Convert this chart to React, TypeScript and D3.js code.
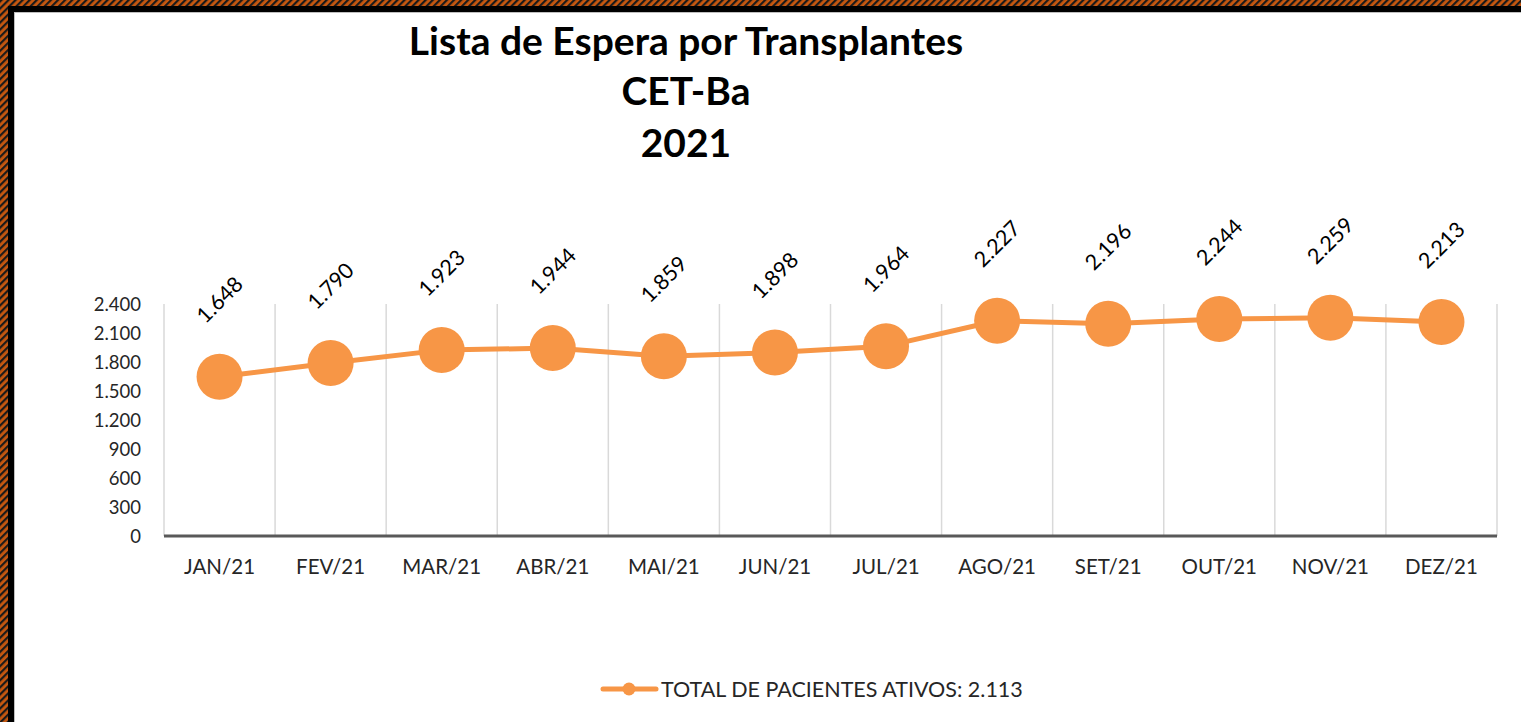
import * as d3 from 'd3';

const months = ['JAN/21', 'FEV/21', 'MAR/21', 'ABR/21', 'MAI/21', 'JUN/21', 'JUL/21', 'AGO/21', 'SET/21', 'OUT/21', 'NOV/21', 'DEZ/21'];
const pacientes = [1648, 1790, 1923, 1944, 1859, 1898, 1964, 2227, 2196, 2244, 2259, 2213];
const yTicks = [0, 300, 600, 900, 1200, 1500, 1800, 2100, 2400];
const titleLines = ['Lista de Espera por Transplantes', 'CET-Ba', '2021'];
const legendLabel = 'TOTAL DE PACIENTES ATIVOS: 2.113';

const W = 1521;
const H = 722;
const ORANGE = '#F79646';
const FONT = 'Lato, "Open Sans", sans-serif';

const fmt = (v: number) => d3.format(',')(v).replace(/,/g, '.');

export default function App() {
  const x = d3.scaleBand<string>().domain(months).range([164, 1497]);
  const y = d3.scaleLinear().domain([0, 2400]).range([536, 304]);
  const cx = (i: number) => x(months[i])! + x.bandwidth() / 2;

  const line = d3.line<number>()
    .x((_, i) => cx(i))
    .y(d => y(d));

  return (
    <svg width={W} height={H} style={{ position: 'absolute', left: 0, top: 0, background: '#fff' }}>
      <defs>
        <pattern id="hatch" width="5" height="5" patternUnits="userSpaceOnUse" patternTransform="rotate(45)">
          <rect width="5" height="5" fill="#c8580f" />
          <rect width="2.2" height="5" fill="#1a1a1a" />
        </pattern>
      </defs>

      {/* frame: left and top only, the rest is cropped */}
      <rect x={0} y={0} width={W} height={6} fill="url(#hatch)" />
      <rect x={0} y={0} width={8} height={H} fill="url(#hatch)" />
      <rect x={8} y={6} width={W - 8} height={6} fill="#000" />
      <rect x={8} y={6} width={6} height={H - 6} fill="#000" />
      <rect x={14} y={12} width={W - 14} height={1} fill="#bfbfbf" />
      <rect x={14} y={12} width={1} height={H - 12} fill="#bfbfbf" />

      {/* title */}
      {titleLines.map((t, i) => (
        <text key={t} x={686} y={[55, 105, 157][i]} textAnchor="middle" fontFamily={FONT}
          fontWeight="bold" fontSize={39} fill="#000">{t}</text>
      ))}

      {/* vertical gridlines */}
      {months.map(m => (
        <line key={m} x1={x(m)} x2={x(m)} y1={y(2400)} y2={y(0)} stroke="#d9d9d9" strokeWidth={1.5} />
      ))}
      <line x1={1497} x2={1497} y1={y(2400)} y2={y(0)} stroke="#d9d9d9" strokeWidth={1.5} />

      {/* x axis */}
      <line x1={164} x2={1497} y1={y(0)} y2={y(0)} stroke="#595959" strokeWidth={3} />

      {/* y tick labels */}
      {yTicks.map(t => (
        <text key={t} x={141} y={y(t) + 6.5} textAnchor="end" fontFamily={FONT} fontSize={18.5} fill="#262626">{fmt(t)}</text>
      ))}

      {/* x labels */}
      {months.map(m => (
        <text key={m} x={x(m)! + x.bandwidth() / 2} y={574} textAnchor="middle" fontFamily={FONT} fontSize={20.5} fill="#262626">{m}</text>
      ))}

      {/* series */}
      <path d={line(pacientes)!} fill="none" stroke={ORANGE} strokeWidth={5} strokeLinejoin="round" />
      {pacientes.map((v, i) => (
        <circle key={i} cx={cx(i)} cy={y(v)} r={23} fill={ORANGE} />
      ))}

      {/* data labels */}
      {pacientes.map((v, i) => (
        <text key={i} transform={`translate(${cx(i)},${y(v) - 77}) rotate(-45)`} textAnchor="middle" dy="0.35em"
          fontFamily={FONT} fontSize={21.5} fill="#000">{fmt(v)}</text>
      ))}

      {/* legend */}
      <line x1={603} x2={656} y1={689} y2={689} stroke={ORANGE} strokeWidth={5} strokeLinecap="round" />
      <circle cx={629} cy={689} r={6.5} fill={ORANGE} />
      <text x={661} y={697} fontFamily={FONT} fontSize={21.5} fill="#262626">{legendLabel}</text>
    </svg>
  );
}
